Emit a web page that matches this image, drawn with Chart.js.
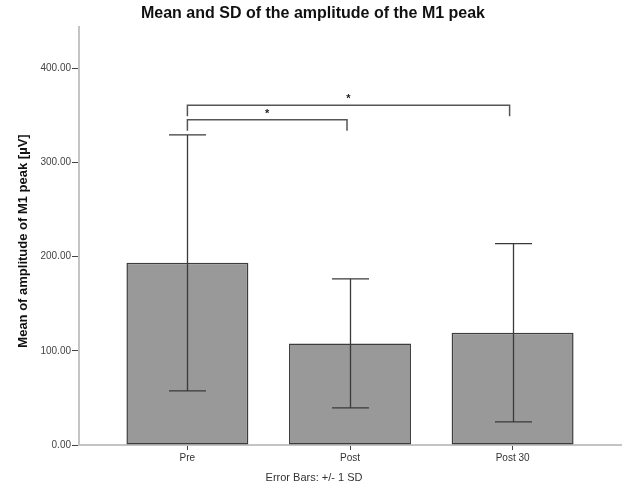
<!DOCTYPE html>
<html>
<head>
<meta charset="utf-8">
<script src="https://cdn.jsdelivr.net/npm/chart.js@4/dist/chart.umd.min.js"></script>
<style>
  html, body { margin: 0; padding: 0; background: #ffffff; }
  #wrap { width: 622px; height: 489px; }
</style>
</head>
<body>
<div id="wrap"><canvas id="chart" width="622" height="489"></canvas></div>
<script>
// Groups and summary statistics (mean ± 1 SD), amplitude of the M1 peak in µV
const categories = ['Pre', 'Post', 'Post 30'];
const means = [193.5, 107.9, 119.2];
const sds = [136.0, 68.5, 94.7];

// Significance brackets: [from group index, to group index, level in µV, star]
const bracketFrom = [0, 0];
const bracketTo = [1, 2];
const bracketLevel = [345.5, 361];
const bracketLabel = ['*', '*'];

const yTicks = [0, 100, 200, 300, 400];

const FONT = '"Liberation Sans", Arial, sans-serif';

// Error bars, significance brackets and free-standing texts
const annotations = {
  id: 'annotations',
  afterDatasetsDraw(chart) {
    const ctx = chart.ctx;
    const xs = chart.scales.x, ys = chart.scales.y;
    ctx.save();
    // error bars
    ctx.strokeStyle = '#3a3a3a';
    ctx.lineWidth = 1.3;
    const cap = 18.5;
    means.forEach((m, i) => {
      const x = Math.round(xs.getPixelForValue(i + 1)) + 0.5;
      const yTop = ys.getPixelForValue(m + sds[i]);
      const yBot = ys.getPixelForValue(m - sds[i]);
      ctx.beginPath();
      ctx.moveTo(x, yTop); ctx.lineTo(x, yBot);
      ctx.moveTo(x - cap, yTop); ctx.lineTo(x + cap, yTop);
      ctx.moveTo(x - cap, yBot); ctx.lineTo(x + cap, yBot);
      ctx.stroke();
    });
    // brackets
    ctx.strokeStyle = '#555555';
    ctx.lineWidth = 1.5;
    ctx.fillStyle = '#222222';
    ctx.font = 'bold 11px ' + FONT;
    ctx.textAlign = 'center';
    ctx.textBaseline = 'middle';
    bracketFrom.forEach((a, k) => {
      const x1 = xs.getPixelForValue(a + 1);
      const x2 = xs.getPixelForValue(bracketTo[k] + 1) - 3;
      const y = ys.getPixelForValue(bracketLevel[k]);
      const drop = 11;
      ctx.beginPath();
      ctx.moveTo(x1, y + drop); ctx.lineTo(x1, y); ctx.lineTo(x2, y); ctx.lineTo(x2, y + drop);
      ctx.stroke();
      ctx.fillText(bracketLabel[k], (x1 + x2) / 2, y - 6);
    });
    // title
    ctx.fillStyle = '#111111';
    ctx.font = 'bold 16px ' + FONT;
    ctx.fillText('Mean and SD of the amplitude of the M1 peak', 313, 14);
    // footnote
    ctx.fillStyle = '#333333';
    ctx.font = '11px ' + FONT;
    ctx.fillText('Error Bars: +/- 1 SD', 314, 478);
    // y-axis title
    ctx.save();
    ctx.translate(23, 241);
    ctx.rotate(-Math.PI / 2);
    ctx.fillStyle = '#111111';
    ctx.font = 'bold 13px ' + FONT;
    ctx.fillText('Mean of amplitude of M1 peak [µV]', 0, 0);
    ctx.restore();
    ctx.restore();
  }
};

new Chart(document.getElementById('chart'), {
  type: 'bar',
  data: {
    datasets: [{
      data: categories.map((c, i) => ({ x: i + 1, y: means[i] })),
      backgroundColor: '#999999',
      borderColor: '#3c3c3c',
      borderWidth: 1.5,
      borderSkipped: false,
      categoryPercentage: 1,
      barPercentage: 0.75
    }]
  },
  options: {
    responsive: false,
    animation: false,
    layout: { padding: { top: 27, right: 1, left: 0, bottom: 0 } },
    plugins: { legend: { display: false }, title: { display: false }, tooltip: { enabled: false } },
    scales: {
      x: {
        type: 'linear',
        offset: false,
        min: 1 / 3,
        max: 11 / 3,
        afterBuildTicks: s => { s.ticks = categories.map((c, i) => ({ value: i + 1 })); },
        afterFit: s => { s.height = 44; },
        ticks: {
          callback: v => categories[v - 1],
          font: { family: FONT, size: 10 },
          color: '#333333',
          padding: 2,
          maxRotation: 0
        },
        grid: { display: true, offset: false, drawOnChartArea: false, drawTicks: true, tickLength: 5, color: '#444444', lineWidth: 1 },
        border: { display: true, color: '#c4c4c4', width: 2 }
      },
      y: {
        min: 0,
        max: 444,
        afterBuildTicks: s => { s.ticks = yTicks.map(v => ({ value: v })); },
        afterFit: s => { s.width = 79; },
        ticks: {
          callback: v => v.toFixed(2),
          font: { family: FONT, size: 10 },
          color: '#444444',
          padding: 1
        },
        grid: { display: true, drawOnChartArea: false, drawTicks: true, tickLength: 7, color: '#444444', lineWidth: 1 },
        border: { display: true, color: '#c4c4c4', width: 2 }
      }
    }
  },
  plugins: [annotations]
});
</script>
</body>
</html>
